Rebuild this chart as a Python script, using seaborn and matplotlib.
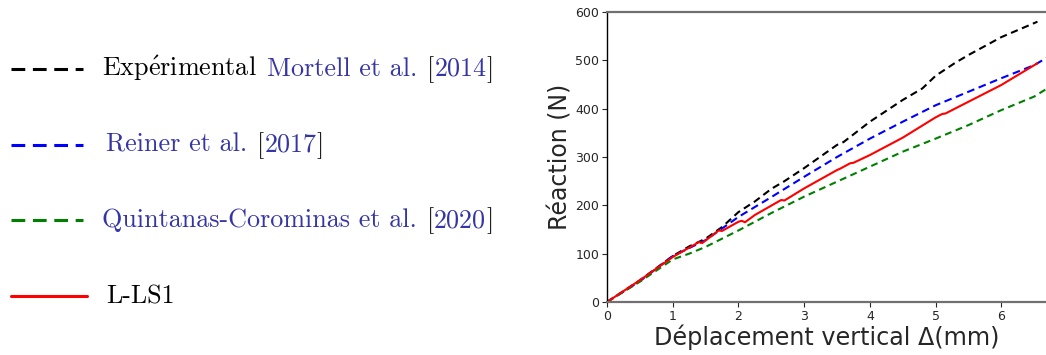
import matplotlib
matplotlib.use("Agg")
import matplotlib.pyplot as plt
import seaborn as sns
import pandas as pd

sns.set_style("ticks")
plt.rcParams["mathtext.fontset"] = "cm"

# données
x_exp = [0, 0.5, 1.0, 1.25, 1.5, 1.75, 2.0, 2.25, 2.5, 2.7, 3.0, 3.5, 3.6, 4.0, 4.5, 4.8, 5.0, 5.3, 5.5, 6.0, 6.5, 6.55]
y_exp = [0, 45, 95, 115, 131, 155, 186, 208, 234, 250, 277, 325, 331, 373, 418, 442, 468, 495, 511, 548, 577, 580]

x_reiner = [0, 0.5, 1.0, 1.5, 2.0, 2.5, 3.0, 3.5, 4.0, 4.5, 5.0, 5.5, 6.0, 6.5, 6.7]
y_reiner = [0, 43, 95, 128, 176, 217, 259, 300, 338, 373, 407, 435, 463, 490, 506]

x_quint = [0, 0.5, 1.0, 1.25, 1.5, 2.0, 2.5, 3.0, 3.5, 4.0, 4.5, 5.0, 5.5, 6.0, 6.5, 6.7]
y_quint = [0, 42, 88, 100, 114, 148, 184, 218, 249, 280, 311, 338, 366, 397, 425, 442]

x_lls1 = [0, 0.5, 1.0, 1.4, 1.45, 1.7, 1.75, 2.0, 2.05, 2.1, 2.25, 2.65, 2.7, 3.0, 3.5, 3.55, 3.7, 3.75, 4.0, 4.5, 5.0, 5.1, 5.15, 6.0, 6.55]
y_lls1 = [0, 45, 93, 124, 122, 148, 147, 166, 168, 165, 180, 211, 210, 235, 273, 276, 287, 288, 304, 340, 382, 389, 390, 449, 494]

series = [
    ("exp", x_exp, y_exp, "black", (3.5, 2.2)),
    ("reiner", x_reiner, y_reiner, "blue", (3.7, 2.2)),
    ("quint", x_quint, y_quint, "green", (3.3, 2.2)),
    ("lls1", x_lls1, y_lls1, "red", None),
]

# lignes de légende : morceaux (texte, couleur)
cite = "#3535a5"
legend_rows = [
    [("Exp$\\acute{\\mathrm{e}}$rimental", "black"), ("Mortell et al.", cite), ("[", "black"), ("2014", cite), ("]", "black")],
    [("Reiner et al.", cite), ("[", "black"), ("2017", cite), ("]", "black")],
    [("Quintanas-Corominas et al.", cite), ("[", "black"), ("2020", cite), ("]", "black")],
    [("L-LS1", "black")],
]
legend_x0 = [102, 106, 102, 106]
rows_y = [69, 145, 220, 296]

fig = plt.figure(figsize=(10.46, 3.55), dpi=100)

# graphe
ax = fig.add_axes([0.5803, 0.1493, 0.4197, 0.8169])
for nom, xs, ys, couleur, dash in series:
    df = pd.DataFrame({"x": xs, "y": ys})
    ls = "-" if dash is None else (0, dash)
    sns.lineplot(data=df, x="x", y="y", color=couleur, lw=1.5, ax=ax, sort=False, linestyle=ls)

ax.set_xlim(0, 6.68)
ax.set_ylim(0, 600)
ax.set_xticks(range(7))
ax.set_yticks(range(0, 700, 100))
ax.tick_params(labelsize=9, length=3.5, width=0.8, pad=2)
ax.set_xlabel("Déplacement vertical Δ(mm)", fontsize=17.2, labelpad=1)
ax.set_ylabel("Réaction (N)", fontsize=17, labelpad=2)
for s in ["top", "bottom"]:
    ax.spines[s].set_color("#707070")
    ax.spines[s].set_linewidth(1.6)
ax.spines["left"].set_color("black")
ax.spines["left"].set_linewidth(1.0)
ax.spines["right"].set_visible(False)

# légende dessinée à part (coordonnées en pixels)
lax = fig.add_axes([0, 0, 0.5, 1])
lax.set_xlim(0, 523)
lax.set_ylim(355, 0)
lax.axis("off")

renderer = fig.canvas.get_renderer()
inv = lax.transData.inverted()
for (nom, xs, ys, couleur, dash), ry, x0, morceaux in zip(series, rows_y, legend_x0, legend_rows):
    if dash is None:
        lax.plot([11, 87], [ry, ry], color=couleur, lw=2.2)
    else:
        lax.plot([11, 83], [ry, ry], color=couleur, lw=2.2, linestyle=(0, (4.5, 2.5)))
    x = x0
    prev = None
    for texte, c in morceaux:
        if prev is not None:
            bb = prev.get_window_extent(renderer)
            gap = 0 if texte == "]" or prev.get_text() == "[" else 10
            x = inv.transform((bb.x1 + gap, 0))[0]
        prev = lax.text(x, ry + 7, texte, fontsize=18.8, color=c,
                        family=["cmr10", "DejaVu Serif"], ha="left", va="baseline")

fig.savefig("out.png", dpi=100)
